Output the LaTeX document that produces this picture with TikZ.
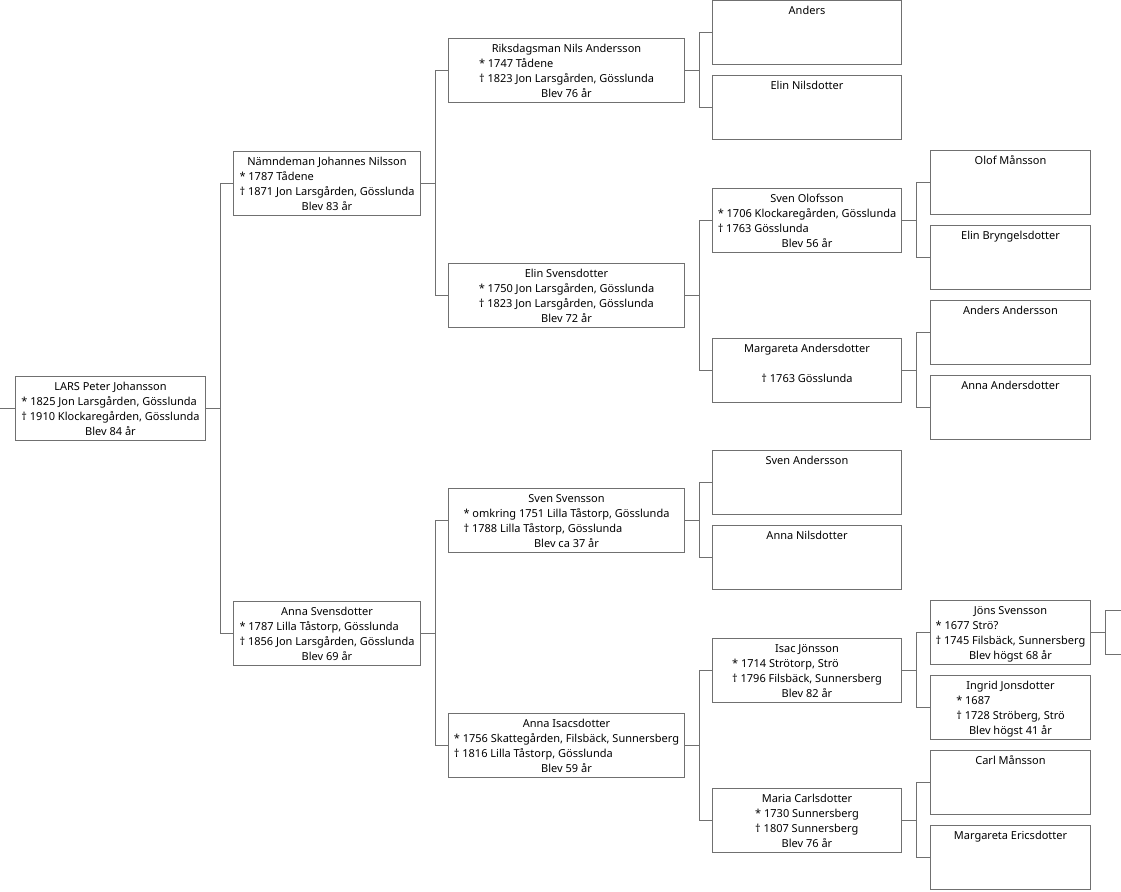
\documentclass[tikz,border=0pt]{standalone}
\usepackage{fontspec}
\setmainfont{Noto Sans}
\usepackage{tikz}

\definecolor{linegray}{RGB}{112,112,112}
\newcommand{\personfont}{\fontsize{11}{15}\selectfont}
% text of one box, first line on top
\newcommand{\card}[1]{\begin{tabular}[t]{@{}c@{}}#1\end{tabular}}
% birth and death lines, left aligned as one block
\newcommand{\dates}[2]{\begin{tabular}[t]{@{}l@{}}#1\\#2\end{tabular}}

\begin{document}
\begin{tikzpicture}[x=1pt,y=-1pt,
	person/.style={draw=linegray, line width=1pt, rectangle, anchor=north west,
		inner xsep=0pt, inner ysep=3.5pt, text height=10.5pt, text depth=46.5pt, font=\personfont},
	gen0/.style={person, minimum width=190pt},
	gen1/.style={person, minimum width=187pt},
	gen2/.style={person, minimum width=236pt},
	gen3/.style={person, minimum width=189pt},
	gen4/.style={person, minimum width=160pt},
	link/.style={draw=linegray, line width=1pt}]
		\useasboundingbox (0,0) rectangle (1121,891);
		
		% generation 0
		\node[gen0] (lars) at (15,376) {\card{LARS Peter Johansson\\ \dates{* 1825 Jon Larsgården, Gösslunda}{† 1910 Klockaregården, Gösslunda}\\ Blev 84 år}};
		
		% parents
		\node[gen1] (johannes) at (233,151) {\card{Nämndeman Johannes Nilsson\\ \dates{* 1787 Tådene}{† 1871 Jon Larsgården, Gösslunda}\\ Blev 83 år}};
		\node[gen1] (annas) at (233,601) {\card{Anna Svensdotter\\ \dates{* 1787 Lilla Tåstorp, Gösslunda}{† 1856 Jon Larsgården, Gösslunda}\\ Blev 69 år}};
		
		% grandparents
		\node[gen2] (nils) at (448,38) {\card{Riksdagsman Nils Andersson\\ \dates{* 1747 Tådene}{† 1823 Jon Larsgården, Gösslunda}\\ Blev 76 år}};
		\node[gen2] (elins) at (448,263) {\card{Elin Svensdotter\\ \dates{* 1750 Jon Larsgården, Gösslunda}{† 1823 Jon Larsgården, Gösslunda}\\ Blev 72 år}};
		\node[gen2] (svens) at (448,488) {\card{Sven Svensson\\ \dates{* omkring 1751 Lilla Tåstorp, Gösslunda}{† 1788 Lilla Tåstorp, Gösslunda}\\ Blev ca 37 år}};
		\node[gen2] (annai) at (448,713) {\card{Anna Isacsdotter\\ \dates{* 1756 Skattegården, Filsbäck, Sunnersberg}{† 1816 Lilla Tåstorp, Gösslunda}\\ Blev 59 år}};
		
		% great-grandparents
		\node[gen3] (anders) at (712,0) {\card{Anders}};
		\node[gen3] (elinn) at (712,75) {\card{Elin Nilsdotter}};
		\node[gen3] (sveno) at (712,188) {\card{Sven Olofsson\\ \dates{* 1706 Klockaregården, Gösslunda}{† 1763 Gösslunda}\\ Blev 56 år}};
		\node[gen3] (margareta) at (712,338) {\card{Margareta Andersdotter\\ \\ † 1763 Gösslunda}};
		\node[gen3] (svena) at (712,450) {\card{Sven Andersson}};
		\node[gen3] (annan) at (712,525) {\card{Anna Nilsdotter}};
		\node[gen3] (isac) at (712,638) {\card{Isac Jönsson\\ \dates{* 1714 Strötorp, Strö}{† 1796 Filsbäck, Sunnersberg}\\ Blev 82 år}};
		\node[gen3] (maria) at (712,788) {\card{Maria Carlsdotter\\ \dates{* 1730 Sunnersberg}{† 1807 Sunnersberg}\\ Blev 76 år}};
		
		% great-great-grandparents
		\node[gen4] (olof) at (930,150) {\card{Olof Månsson}};
		\node[gen4] (elinb) at (930,225) {\card{Elin Bryngelsdotter}};
		\node[gen4] (andersa) at (930,300) {\card{Anders Andersson}};
		\node[gen4] (annaa) at (930,375) {\card{Anna Andersdotter}};
		\node[gen4] (jons) at (930,600) {\card{Jöns Svensson\\ \dates{* 1677 Strö?}{† 1745 Filsbäck, Sunnersberg}\\ Blev högst 68 år}};
		\node[gen4] (ingrid) at (930,675) {\card{Ingrid Jonsdotter\\ \dates{* 1687}{† 1728 Ströberg, Strö}\\ Blev högst 41 år}};
		\node[gen4] (carl) at (930,750) {\card{Carl Månsson}};
		\node[gen4] (margaretae) at (930,825) {\card{Margareta Ericsdotter}};
		
		% connectors child -> parents
		\draw[link] (lars.west) -- ++(-15,0);
		\foreach \c/\p in {lars/johannes, lars/annas,
			johannes/nils, johannes/elins, annas/svens, annas/annai,
			nils/anders, nils/elinn, elins/sveno, elins/margareta,
			svens/svena, svens/annan, annai/isac, annai/maria,
			sveno/olof, sveno/elinb, margareta/andersa, margareta/annaa,
			isac/jons, isac/ingrid, maria/carl, maria/margaretae}
		\draw[link] (\c.east) -- ++(14,0) |- (\p.west);
		
		% Jöns Svensson's parents lie outside the picture
		\coordinate (jonsf) at (1121,610);
		\coordinate (jonsm) at (1121,654);
		\draw[link] (jons.east) -- ++(14,0) |- (jonsf);
		\draw[link] (jons.east) -- ++(14,0) |- (jonsm);
\end{tikzpicture}
\end{document}
